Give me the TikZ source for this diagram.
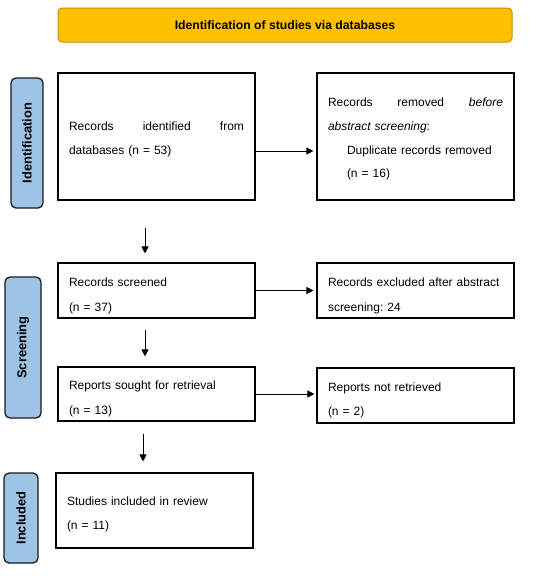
\documentclass[tikz,border=0pt]{standalone}
\usepackage{fontspec}
\setmainfont{Liberation Sans}
\usetikzlibrary{arrows.meta}
\definecolor{titlefill}{HTML}{FFC000}
\definecolor{titleline}{HTML}{C39200}
\definecolor{sidefill}{HTML}{9DC3E6}
\definecolor{sideline}{HTML}{1A1A1A}
\newcommand{\topstrut}[1]{\rule{0pt}{#1}}
\begin{document}
\begin{tikzpicture}[x=1pt,y=-1pt,
  box/.style={draw=black, line width=1.1pt, minimum width=197pt, inner xsep=11pt, inner ysep=0pt,
    text width=175pt, align=left, font=\fontsize{12}{23.7}\selectfont\frenchspacing},
  smallbox/.style={box, font=\fontsize{12}{24.5}\selectfont\frenchspacing},
  titlebox/.style={draw=titleline, fill=titlefill, line width=1pt, rounded corners=4pt,
    minimum width=454pt, minimum height=34pt, inner sep=0pt, font=\fontsize{12.2}{14}\selectfont\bfseries},
  sidebox/.style={draw=sideline, fill=sidefill, line width=1.3pt, rounded corners=5pt,
    rotate=90, inner sep=0pt, font=\fontsize{12.9}{14}\selectfont\bfseries},
  arr/.style={draw=black, line width=0.9pt, -{Triangle[length=7pt,width=7pt]}}
]
\useasboundingbox (0,0) rectangle (550,576);

\node[titlebox] (title) at (285,25) {Identification of studies via databases};

\node[sidebox, minimum width=130pt, minimum height=32pt] (sid) at (27,143) {Identification};
\node[sidebox, minimum width=141pt, minimum height=36pt] (sscr) at (23,347.5) {Screening};
\node[sidebox, minimum width=90pt, minimum height=34pt] (sinc) at (21,518) {Included};

\node[box, minimum height=127pt] (b1) at (156.5,136.5)
  {\topstrut{14pt}\hbox to 175pt{Records\hfill identified\hfill from}\\databases (n = 53)};
\node[box, minimum height=127pt] (b2) at (415.5,136.5)
  {\topstrut{14pt}\hbox to 175pt{Records\hfill removed\hfill \textit{before}}\\\textit{abstract screening}:\\\hspace*{19pt}Duplicate records removed\\\hspace*{19pt}(n = 16)};

\node[smallbox, minimum height=55pt] (b3) at (156.5,290.5)
  {\topstrut{19pt}Records screened\\(n = 37)};
\node[smallbox, minimum height=55pt] (b4) at (415.5,290.5)
  {\topstrut{19pt}\mbox{Records excluded after abstract}\\screening: 24};

\node[smallbox, minimum height=54pt] (b5) at (156.5,394)
  {\topstrut{18pt}Reports sought for retrieval\\(n = 13)};
\node[smallbox, minimum height=55pt] (b6) at (415.5,395.5)
  {\topstrut{18pt}Reports not retrieved\\(n = 2)};

\node[smallbox, minimum height=75pt] (b7) at (154.5,510.5)
  {\topstrut{16pt}Studies included in review\\(n = 11)};

\draw[arr, shorten >=3pt] (b1.east |- 0,151) -- (b2.west |- 0,151);
\draw[arr, shorten >=3pt] (b3.east) -- (b4.west |- b3.east);
\draw[arr, shorten >=2pt] (b5.east) -- (b6.west |- b5.east);

\draw[arr, shorten <=27pt, shorten >=9pt] (b1.south -| 145,0) -- (b3.north -| 145,0);
\draw[arr, shorten <=11pt, shorten >=10pt] (b3.south -| 145,0) -- (b5.north -| 145,0);
\draw[arr, shorten <=12pt, shorten >=11pt] (b5.south -| 143,0) -- (b7.north -| 143,0);
\end{tikzpicture}
\end{document}
